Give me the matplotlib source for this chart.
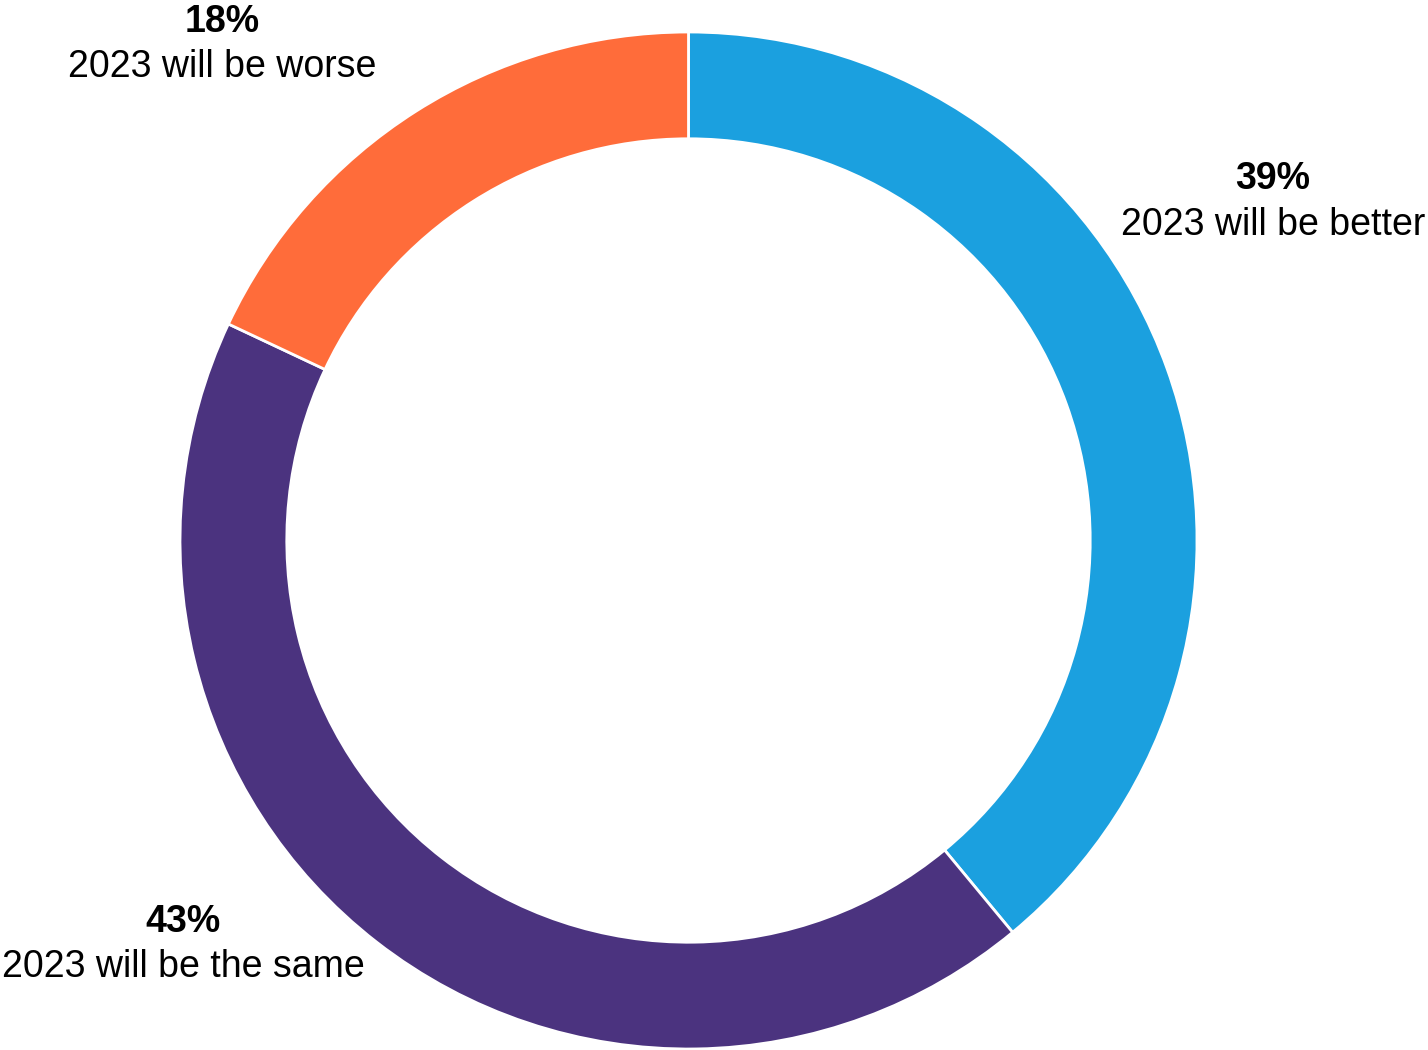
import matplotlib

matplotlib.use("Agg")
import matplotlib.pyplot as plt  # noqa: E402

# data
labels = ["2023 will be better", "2023 will be the same", "2023 will be worse"]
shares = [39, 43, 18]
colors = ["#1ba0df", "#4b337f", "#ff6c3a"]

# label anchors in pixels: (center x, baseline of pct, baseline of caption)
label_px = [(1273, 189, 235), (183, 932, 977), (222, 32, 77)]

W, H = 1428, 1050
CX, CY, R = 688.5, 540.5, 508.5

plt.rcParams["font.family"] = ["Liberation Sans", "DejaVu Sans"]

fig = plt.figure(figsize=(W / 100, H / 100), dpi=100)
ax = fig.add_axes([0, 0, 1, 1])
ax.axis("off")

ax.pie(
    shares,
    colors=colors,
    startangle=90,
    counterclock=False,
    radius=1.0,
    wedgeprops=dict(width=0.21, edgecolor="white", linewidth=2),
)
ax.set_xlim(-CX / R, (W - CX) / R)
ax.set_ylim(-(H - CY) / R, CY / R)
ax.set_aspect("auto")


def to_data(px, py):
    return (px - CX) / R, (CY - py) / R


for lab, val, (px, yb1, yb2) in zip(labels, shares, label_px):
    x, y1 = to_data(px, yb1)
    _, y2 = to_data(px, yb2)
    ax.text(x, y1, f"{val}%", ha="center", va="baseline",
            fontsize=27, fontweight="bold", color="black")
    ax.text(x, y2, lab, ha="center", va="baseline", fontsize=27, color="black")

fig.savefig("out.png", dpi=100, facecolor="white")
